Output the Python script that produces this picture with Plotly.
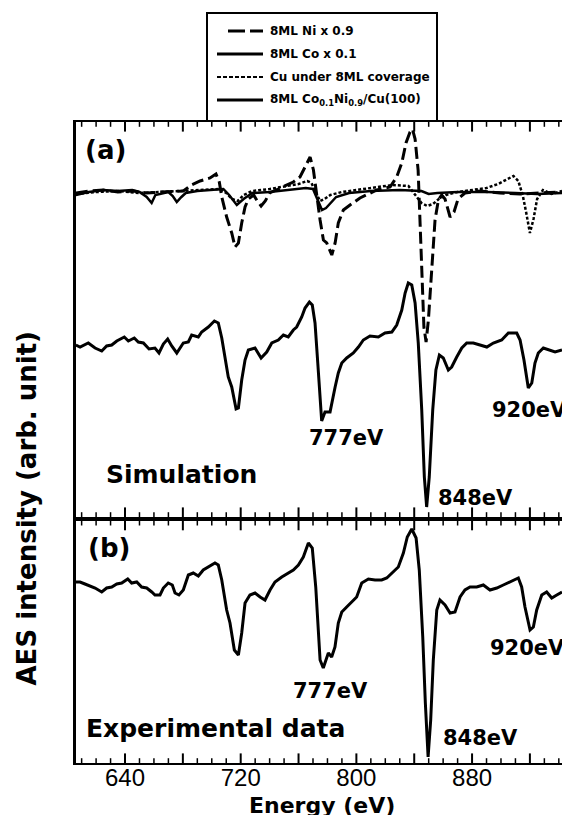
import plotly.graph_objects as go

# ---------------- data (energy in eV, intensity in arb. units) ----------------
# Panel (a): simulation
ni_e = [606, 615, 625, 635, 645, 655, 665, 675, 680.3, 685.9, 691.9, 698.8, 702.9, 705.2, 706.9,
        710.3, 713.8, 716.1, 718.4, 720.7, 723.0, 725.3, 729.0, 731.5, 734.1, 737.0, 740.0, 746.0,
        751.8, 756.4, 761.0, 765.7, 768.0, 770.3, 772.6, 774.9, 777.2, 779.5, 783.0, 785.3, 787.5,
        791.0, 795.6, 802.5, 814.1, 823.3, 827.9, 831.4, 834.3, 837.1, 838.8, 840.6, 842.7, 844.0,
        845.2, 846.7, 848.2, 849.8, 852.1, 854.4, 856.7, 859.0, 861.3, 864.8, 867.5, 870.3, 875.1,
        885.5, 899.3, 913.2, 927.0, 942.2]
ni_i = [324, 326, 327, 325, 326, 324, 325, 326, 326, 332, 336, 339, 343, 335, 320,
        300, 284, 270, 274, 294, 310, 318, 322, 316, 311, 316, 324, 328,
        332, 335, 340, 354, 360, 347, 320, 297, 277, 274, 262, 274, 294,
        307, 312, 319, 327, 330, 340, 354, 374, 385, 388, 378, 347, 297,
        247, 190, 175, 197, 247, 297, 317, 322, 318, 300, 305, 318, 324,
        326, 324, 323, 324, 325]

co_e = [606, 615, 625, 635, 645, 650, 655, 658.4, 661, 670, 673, 675.8, 679, 682, 690, 700, 708,
        712, 717.3, 722, 728, 740, 755, 765, 770, 773, 776.2, 779, 781, 786, 795, 810, 830, 845,
        850, 856, 870, 890, 910, 925, 942.2]
co_i = [322, 325, 327, 326, 327, 325, 320, 314, 322, 325, 321, 315, 320, 324, 326, 327, 328,
        322, 312, 318, 324, 325, 327, 329, 328, 318, 307, 309, 312, 320, 324, 326, 327, 326,
        323, 324, 325, 325, 324, 323, 324]

cu_e = [606, 620, 635, 650, 665, 680, 695, 705, 710, 714, 718, 722, 728, 740, 752, 760, 766, 769,
        772, 775, 778, 782, 790, 800, 812, 825, 836, 841, 845, 849, 853, 857, 862, 870, 880, 890,
        898, 904, 908.6, 912, 915, 917.5, 920, 922.5, 925, 929, 935, 942.2]
cu_i = [323, 325, 326, 324, 325, 326, 327, 328, 324, 318, 316, 322, 326, 328, 331, 333, 336, 334,
        324, 316, 318, 322, 325, 327, 330, 332, 331, 322, 314, 311, 313, 318, 322, 325, 327, 329,
        333, 338, 341, 336, 322, 304, 284, 298, 318, 327, 323, 326]

sim_e = [606.0, 608.9, 614.6, 619.3, 623.9, 627.3, 630.8, 634.3, 639.5, 642.3, 646.4, 649.2, 652.7,
         656.6, 660.7, 663.5, 666.5, 669.5, 672.3, 675.8, 680.3, 683.8, 686.1, 690.7, 693.0, 697.6,
         701.8, 704.5, 706.9, 709.2, 711.4, 713.8, 716.8, 718.4, 720.7, 723.0, 725.3, 729.9, 734.1,
         738.0, 741.5, 746.0, 749.5, 752.9, 756.4, 758.7, 762.2, 764.5, 767.5, 769.5, 771.4, 773.3,
         774.9, 776.0, 778.3, 781.8, 785.3, 787.5, 789.9, 793.3, 797.9, 801.4, 804.8, 809.4, 815.2,
         819.8, 824.5, 827.9, 831.4, 833.7, 835.9, 838.3, 840.6, 842.8, 845.2, 847.0, 848.6, 850.4,
         852.8, 855.0, 857.4, 860.1, 863.6, 865.9, 869.4, 872.9, 876.3, 880.9, 885.5, 890.2, 894.7,
         900.5, 905.1, 910.9, 913.2, 915.9, 918.9, 921.3, 923.5, 925.8, 929.3, 933.9, 937.4, 942.2]
sim_i = [172, 170, 174, 169, 166, 171, 172, 176, 180, 176, 179, 175, 174,
         168, 169, 164, 173, 178, 171, 164, 174, 175, 182, 180, 185, 190,
         196, 194, 179, 160, 140, 130, 108, 109, 137, 157, 167, 169, 159,
         165, 174, 177, 182, 180, 187, 190, 200, 209, 215, 212, 194, 154,
         117, 96, 105, 105, 130, 144, 154, 159, 164, 170, 177, 181, 180,
         184, 185, 192, 207, 224, 234, 232, 214, 174, 107, 40, 10, 40,
         107, 147, 162, 159, 147, 150, 160, 169, 174, 174, 172, 170, 174,
         177, 184, 184, 177, 157, 129, 134, 154, 164, 169, 167, 165, 167]

# Panel (b): experimental data
exp_e = [606.0, 608.9, 612.3, 615.8, 619.3, 623.9, 627.3, 630.8, 634.3, 637.7, 641.9, 644.6, 648.1,
         651.5, 655.0, 658.5, 660.7, 664.2, 666.5, 669.9, 672.7, 674.6, 677.3, 680.3, 683.8, 687.2,
         690.7, 694.1, 697.6, 702.2, 704.5, 706.9, 710.3, 712.6, 715.6, 718.4, 720.7, 723.0, 726.4,
         729.9, 733.4, 736.8, 740.3, 743.7, 748.4, 752.9, 756.4, 759.9, 763.3, 766.8, 769.5, 771.9,
         774.9, 777.1, 780.6, 782.9, 785.2, 787.5, 789.9, 793.3, 796.8, 800.2, 803.7, 808.3, 812.9,
         817.5, 821.0, 825.6, 829.0, 832.5, 835.2, 838.3, 841.3, 843.5, 845.9, 847.7, 849.6, 851.4,
         853.2, 855.6, 857.8, 861.3, 864.8, 868.2, 871.7, 875.1, 878.6, 883.2, 887.8, 892.4, 897.1,
         901.6, 906.3, 912.0, 914.3, 916.6, 920.1, 922.4, 924.7, 928.2, 931.6, 935.1, 938.6, 942.2]
exp_i = [181, 181, 179, 177, 175, 171, 175, 176, 179, 180, 184, 180, 181,
         176, 175, 171, 168, 168, 175, 180, 178, 170, 168, 173, 188, 190,
         187, 193, 196, 200, 198, 183, 153, 140, 113, 108, 130, 160, 168,
         170, 166, 163, 173, 181, 186, 190, 193, 198, 206, 220, 215, 176,
         103, 95, 110, 106, 116, 140, 151, 156, 161, 166, 180, 184, 183,
         183, 185, 191, 196, 210, 226, 234, 225, 193, 126, 60, 6, 43,
         103, 153, 163, 158, 150, 151, 166, 173, 176, 176, 178, 173, 175,
         178, 181, 185, 176, 156, 133, 136, 153, 168, 171, 165, 168, 171]

legend_labels = ["8ML Ni x 0.9", "8ML Co x 0.1", "Cu under 8ML coverage",
                 "8ML Co<sub>0.1</sub>Ni<sub>0.9</sub>/Cu(100)"]
label_ticks = [640, 720, 800, 880]
major_ticks = [640, 680, 720, 760, 800, 840, 880, 920]
minor_ticks = [e for e in range(610, 941, 10) if e not in major_ticks]

# ---------------- figure ----------------
BOLD = "DejaVu Sans"
X_RANGE = [606.1, 942.2]
YA_RANGE = [0, 395]      # panel (a), 1 unit per pixel
YB_RANGE = [0, 242.3]    # panel (b), 1 unit per pixel
MAJOR_LEN, MINOR_LEN = 8, 4

fig = go.Figure()

fig.add_trace(go.Scatter(x=ni_e, y=ni_i, xaxis="x2", yaxis="y2", mode="lines",
                         line=dict(color="black", width=3, dash="12px,5px"), showlegend=False))
fig.add_trace(go.Scatter(x=co_e, y=co_i, xaxis="x2", yaxis="y2", mode="lines",
                         line=dict(color="black", width=2.5), showlegend=False))
fig.add_trace(go.Scatter(x=cu_e, y=cu_i, xaxis="x2", yaxis="y2", mode="lines",
                         line=dict(color="black", width=2.5, dash="3px,2px"), showlegend=False))
fig.add_trace(go.Scatter(x=sim_e, y=sim_i, xaxis="x2", yaxis="y2", mode="lines",
                         line=dict(color="black", width=3), showlegend=False))
fig.add_trace(go.Scatter(x=exp_e, y=exp_i, xaxis="x", yaxis="y", mode="lines",
                         line=dict(color="black", width=3), showlegend=False))

# inward tick marks on the top and bottom frame of both panels
def tick_marks(vals, length, width, xa, ya, yr):
    for ypos in (yr[0] + length / 2, yr[1] - length / 2):
        fig.add_trace(go.Scatter(x=vals, y=[ypos] * len(vals), xaxis=xa, yaxis=ya, mode="markers",
                                 marker=dict(symbol="line-ns-open", size=length, color="black",
                                             line=dict(color="black", width=width)),
                                 cliponaxis=False, hoverinfo="skip", showlegend=False))

tick_marks(major_ticks, MAJOR_LEN, 2, "x", "y", YB_RANGE)
tick_marks(minor_ticks, MINOR_LEN, 1.5, "x", "y", YB_RANGE)
tick_marks(major_ticks, MAJOR_LEN, 2, "x2", "y2", YA_RANGE)
tick_marks(minor_ticks, MINOR_LEN, 1.5, "x2", "y2", YA_RANGE)

xcommon = dict(range=X_RANGE, showgrid=False, zeroline=False, linecolor="black", linewidth=2.2,
               showline=True, mirror=True, ticks="")
ycommon = dict(showgrid=False, zeroline=False, showline=True, linecolor="black", linewidth=2.5,
               ticks="", showticklabels=False, mirror=False)

H0, H1 = 122, 763
def py(p):
    return (H1 - p) / (H1 - H0)
def px(p):
    return (p - 76) / (562 - 76)

fig.update_layout(
    width=562, height=815,
    margin=dict(l=76, r=0, t=122, b=52),
    paper_bgcolor="white", plot_bgcolor="white",
    showlegend=False,
    xaxis=dict(**xcommon, anchor="y", domain=[0, 1], tickmode="array", tickvals=label_ticks,
               ticktext=[str(v) for v in label_ticks], ticklabelstandoff=-8,
               tickfont=dict(family="Liberation Sans", size=24, color="black")),
    xaxis2=dict(**xcommon, anchor="y2", domain=[0, 1], matches="x", showticklabels=False),
    yaxis=dict(**ycommon, anchor="x", domain=[0, py(520.7)], range=YB_RANGE),
    yaxis2=dict(**ycommon, anchor="x2", domain=[py(517), 1], range=YA_RANGE),
)

ann = []
def lab(text, x, y, size, xa="left", xref="x2", yref="y2", ya="middle"):
    ann.append(dict(text=text, x=x, y=y, xref=xref, yref=yref, xanchor=xa, yanchor=ya,
                    showarrow=False, font=dict(family=BOLD, size=size, color="black", weight="bold")))

# panel (a)
lab("(a)", 610.9, 367, 26)
lab("Simulation", 625.5, 43, 25)
lab("777eV", 793.3, 79, 21, xa="center")
lab("848eV", 882.4, 19, 21, xa="center")
lab("920eV", 892.4, 107, 21)
# panel (b)
lab("(b)", 613.0, 215, 26, xref="x", yref="y")
lab("Experimental data", 611.6, 35, 25, xref="x", yref="y")
lab("777eV", 782.1, 72, 21, xa="center", xref="x", yref="y")
lab("848eV", 886.1, 25, 21, xa="center", xref="x", yref="y")
lab("920eV", 890.8, 115, 21, xref="x", yref="y")

# axis titles
ann.append(dict(text="AES intensity (arb. unit)", x=px(27), y=py(508.5), xref="paper", yref="paper",
                xanchor="center", yanchor="middle", textangle=-90, showarrow=False,
                font=dict(family=BOLD, size=26, color="black", weight="bold")))
ann.append(dict(text="Energy (eV)", x=px(321.5), y=py(805), xref="paper", yref="paper",
                xanchor="center", yanchor="middle", showarrow=False,
                font=dict(family=BOLD, size=22, color="black", weight="bold")))

# legend box
shapes = [dict(type="rect", xref="paper", yref="paper", x0=px(207), x1=px(437), y0=py(121), y1=py(13),
               line=dict(color="black", width=2), fillcolor="white", layer="above")]
leg_y = [31, 54, 77, 100]
leg_styles = [dict(width=3, dash="17px,5px"), dict(width=3), dict(width=2, dash="4px,2px"), dict(width=3)]
leg_x0 = [228, 217, 217, 217]
for lbl, yy, st, x0 in zip(legend_labels, leg_y, leg_styles, leg_x0):
    shapes.append(dict(type="line", xref="paper", yref="paper", x0=px(x0), x1=px(263),
                       y0=py(yy), y1=py(yy), line=dict(color="black", **st), layer="above"))
    ann.append(dict(text=lbl, x=px(268), y=py(yy), xref="paper", yref="paper", xanchor="left",
                    yanchor="middle", showarrow=False,
                    font=dict(family=BOLD, size=12, color="black", weight="bold")))

fig.update_layout(annotations=ann, shapes=shapes)
fig.write_html("out.html")
